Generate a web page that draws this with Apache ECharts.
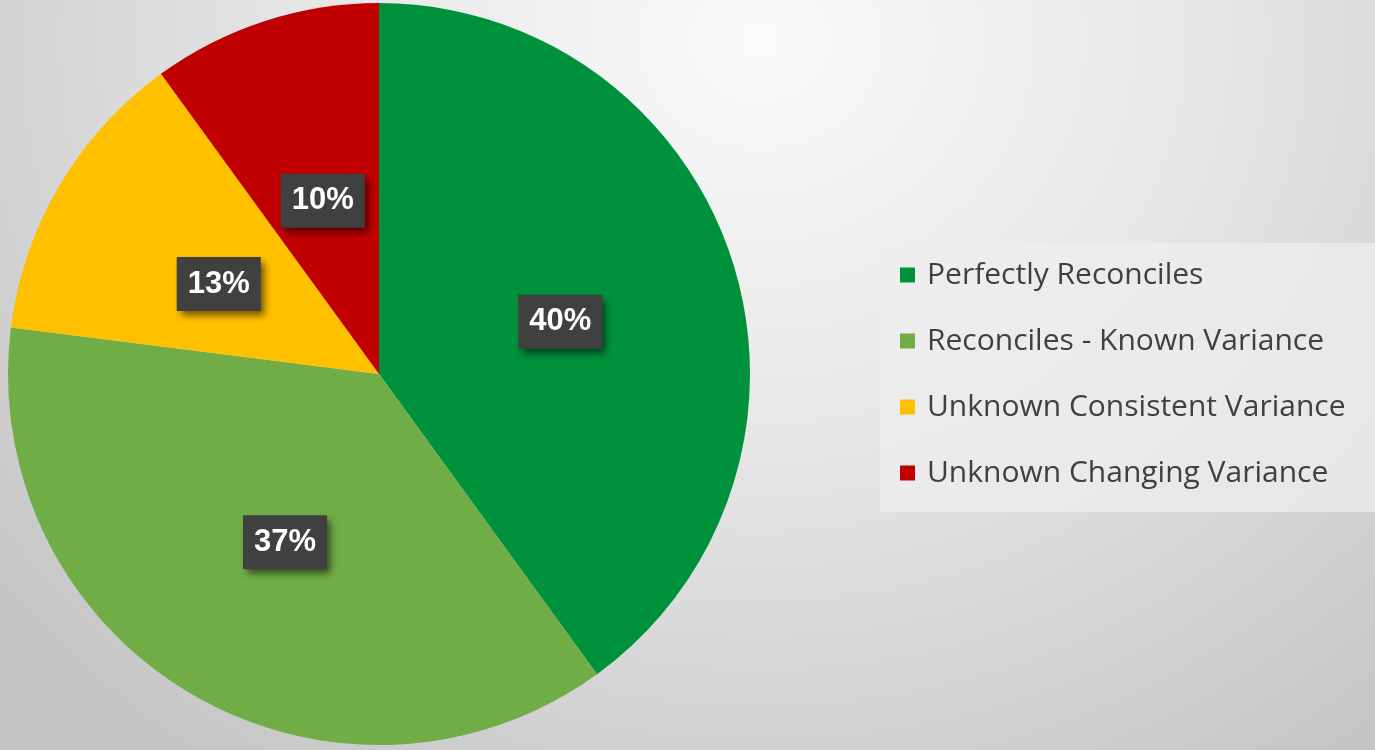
<!DOCTYPE html>
<html>
<head>
<meta charset="utf-8">
<title>Reconciliation Status</title>
<script src="https://cdn.jsdelivr.net/npm/echarts@6/dist/echarts.min.js"></script>
<style>
  html, body { margin: 0; padding: 0; }
  body {
    width: 1375px; height: 750px; overflow: hidden;
    background: radial-gradient(ellipse 1000px 900px at 760px 40px, #fbfbfb 0%, #e6e6e6 45%, #c4c4c4 100%);
  }
  #chart { width: 1375px; height: 750px; }
</style>
</head>
<body>
<div id="chart"></div>
<script>
// Reconciliation outcome categories and their share (percent)
const categories = [
  'Perfectly Reconciles',
  'Reconciles - Known Variance',
  'Unknown Consistent Variance',
  'Unknown Changing Variance'
];
const shares = [40, 37, 13, 10];
const sliceColors = ['#00913c', '#70ad47', '#ffc000', '#c00000'];

const chart = echarts.init(document.getElementById('chart'));

chart.setOption({
  backgroundColor: 'transparent',
  animation: false,
  color: sliceColors,
  legend: {
    orient: 'vertical',
    left: 880,
    top: 243,
    padding: [17, 30, 24, 20],
    itemGap: 36,
    itemWidth: 15,
    itemHeight: 15,
    icon: 'rect',
    backgroundColor: 'rgba(238,238,238,0.75)',
    textStyle: {
      fontFamily: 'Open Sans',
      fontSize: 30,
      lineHeight: 30,
      color: '#404040',
      padding: [0, 0, 0, 7]
    },
    data: categories
  },
  series: [{
    type: 'pie',
    center: [379, 374],
    radius: 371,
    startAngle: 90,
    clockwise: true,
    silent: true,
    label: {
      show: true,
      position: 'inside',
      formatter: p => p.value + '%',
      fontFamily: 'Liberation Sans',
      fontWeight: 'bold',
      fontSize: 31,
      lineHeight: 32,
      color: '#ffffff',
      backgroundColor: '#404040',
      padding: [11, 11, 11, 11],
      offset: [2, 6],
      shadowColor: 'rgba(0,0,0,0.55)',
      shadowBlur: 7,
      shadowOffsetX: 4,
      shadowOffsetY: 5
    },
    labelLine: { show: false },
    data: categories.map((name, i) => ({ name, value: shares[i] }))
  }]
});
</script>
</body>
</html>
